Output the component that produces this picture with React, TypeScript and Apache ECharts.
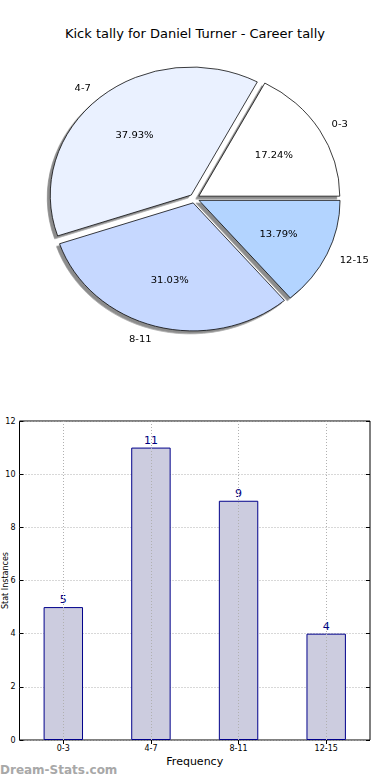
import React, { useEffect, useRef } from "react";
import * as echarts from "echarts";

const titleText = "Kick tally for Daniel Turner - Career tally";
const categories = ["0-3", "4-7", "8-11", "12-15"];
const tallies = [5, 11, 9, 4];
const sliceColors = ["#ffffff", "#eaf1ff", "#c6d8ff", "#b3d4ff"];
const yMin = 0;
const yMax = 12;
const yStep = 2;
const xAxisName = "Frequency";
const yAxisName = "Stat Instances";
const watermark = "Dream-Stats.com";

const FONT = "DejaVu Sans";
const PIE_SCALE_Y = 0.908;
const PIE_R = 141;
const PIE_CX = 194.5;
const PIE_CY = 198.5 / PIE_SCALE_Y;

export default function App() {
  const barRef = useRef<HTMLDivElement>(null);
  const pieRef = useRef<HTMLDivElement>(null);

  useEffect(() => {
    const total = tallies.reduce((a, b) => a + b, 0);
    const bar = echarts.init(barRef.current!, null, { renderer: "svg" });
    const pie = echarts.init(pieRef.current!, null, { renderer: "svg" });

    const dotted = { type: [1, 2] as any, color: "#b0b0b0", width: 1 };

    bar.setOption({
      animation: false,
      textStyle: { fontFamily: FONT },
      title: {
        text: titleText,
        left: "center",
        top: 22,
        textStyle: { fontSize: 13, fontWeight: "normal", color: "#000", fontFamily: FONT },
      },
      grid: {
        left: 19.5,
        right: 20,
        top: 421,
        bottom: 40,
        containLabel: false,
        outerBoundsMode: "none",
        show: true,
        borderColor: "#000",
        borderWidth: 1,
        backgroundColor: "transparent",
      },
      xAxis: [
        {
          type: "category",
          data: categories,
          position: "bottom",
          name: xAxisName,
          nameLocation: "middle",
          nameGap: 16,
          nameMoveOverlap: false,
          nameTextStyle: { fontSize: 11, color: "#000", fontFamily: FONT },
          axisLine: { show: false },
          axisTick: { show: true, inside: true, length: 4, alignWithLabel: true, lineStyle: { color: "#000" } },
          axisLabel: { fontSize: 8, color: "#000", margin: 4, fontFamily: FONT },
          splitLine: { show: false },
        },
        {
          type: "category",
          data: categories,
          position: "top",
          axisLine: { show: false },
          axisTick: { show: true, inside: true, length: 4, alignWithLabel: true, lineStyle: { color: "#000" } },
          axisLabel: { show: false },
          splitLine: { show: false },
        },
      ],
      yAxis: [
        {
          type: "value",
          min: yMin,
          max: yMax,
          interval: yStep,
          position: "left",
          name: yAxisName,
          nameLocation: "middle",
          nameGap: 10,
          nameMoveOverlap: false,
          nameTextStyle: { fontSize: 8, color: "#000", fontFamily: FONT },
          axisLine: { show: false },
          axisTick: { show: true, inside: true, length: 4, lineStyle: { color: "#000" } },
          axisLabel: { fontSize: 8, color: "#000", margin: 4, fontFamily: FONT },
          splitLine: { show: true, lineStyle: dotted },
        },
        {
          type: "value",
          min: yMin,
          max: yMax,
          interval: yStep,
          position: "right",
          axisLine: { show: false },
          axisTick: { show: true, inside: true, length: 4, lineStyle: { color: "#000" } },
          axisLabel: { show: false },
          splitLine: { show: false },
        },
      ],
      graphic: [
        {
          type: "text",
          left: 0,
          top: 764,
          style: {
            text: watermark,
            fontSize: 12,
            fontWeight: "bold",
            fill: "#a8a8a8",
            fontFamily: FONT,
          },
        },
      ],
      series: [
        {
          type: "bar",
          xAxisIndex: 0,
          yAxisIndex: 0,
          data: tallies,
          barWidth: "45%",
          itemStyle: { color: "#ccccdf", borderColor: "#00008b", borderWidth: 1 },
          label: {
            show: true,
            position: "top",
            distance: 2,
            color: "#000080",
            fontSize: 11,
            fontFamily: FONT,
          },
          silent: true,
          markLine: {
            silent: true,
            symbol: "none",
            label: { show: false },
            lineStyle: dotted,
            data: categories.map((c) => ({ xAxis: c })),
          },
        },
      ],
    });

    const pieData = categories.map((c, i) => ({
      name: c,
      value: tallies[i],
      selected: true,
      itemStyle: { color: sliceColors[i] },
    }));

    pie.setOption({
      animation: false,
      textStyle: { fontFamily: FONT },
      series: [
        {
          type: "pie",
          center: [PIE_CX, PIE_CY],
          radius: [0, PIE_R],
          startAngle: 0,
          clockwise: false,
          selectedMode: "multiple",
          selectedOffset: 5,
          avoidLabelOverlap: false,
          silent: true,
          data: pieData,
          itemStyle: {
            borderColor: "#000",
            borderWidth: 0.8,
            shadowColor: "rgba(0,0,0,0.45)",
            shadowOffsetX: -3,
            shadowOffsetY: 3,
            shadowBlur: 0,
          },
          label: {
            show: true,
            position: "outside",
            formatter: "{b}",
            fontSize: 10,
            color: "#000",
            fontFamily: FONT,
            distanceToLabelLine: 0,
          },
          labelLine: { show: false, length: 14, length2: 0 },
          emphasis: { disabled: true },
        },
        {
          type: "pie",
          center: [PIE_CX, PIE_CY],
          radius: [0, PIE_R * 1.2],
          startAngle: 0,
          clockwise: false,
          selectedMode: "multiple",
          selectedOffset: 5,
          avoidLabelOverlap: false,
          silent: true,
          z: 3,
          data: pieData.map((d) => ({ ...d, itemStyle: { color: "rgba(0,0,0,0)" } })),
          itemStyle: { borderWidth: 0 },
          label: {
            show: true,
            position: "inside",
            formatter: (p: any) => ((p.value / total) * 100).toFixed(2) + "%",
            fontSize: 10,
            color: "#000",
            fontFamily: FONT,
          },
          labelLine: { show: false },
          emphasis: { disabled: true },
        },
      ],
    });

    return () => {
      bar.dispose();
      pie.dispose();
    };
  }, []);

  return (
    <div style={{ position: "absolute", left: 0, top: 0, width: 390, height: 780, background: "#fff", overflow: "hidden" }}>
      <div ref={barRef} style={{ position: "absolute", left: 0, top: 0, width: 390, height: 780 }} />
      <div
        ref={pieRef}
        style={{
          position: "absolute",
          left: 0,
          top: 0,
          width: 390,
          height: 440,
          transform: `scaleY(${PIE_SCALE_Y})`,
          transformOrigin: "0 0",
          pointerEvents: "none",
        }}
      />
    </div>
  );
}
